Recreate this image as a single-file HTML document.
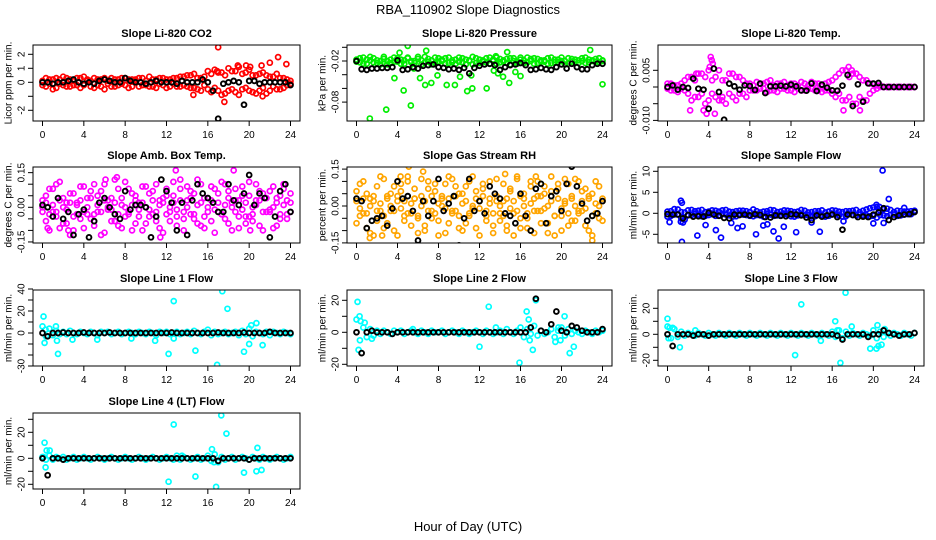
<!DOCTYPE html>
<html><head><meta charset="utf-8"><style>
html,body{margin:0;padding:0;background:#fff;}
svg{display:block;font-family:"Liberation Sans",Arial,sans-serif;}
</style></head><body>
<svg id="chart" width="936" height="540" viewBox="0 0 936 540" xmlns="http://www.w3.org/2000/svg">
<rect width="936" height="540" fill="#fff"/>
<text x="468" y="14" text-anchor="middle" font-size="13">RBA_110902  Slope Diagnostics</text>
<text x="468" y="531" text-anchor="middle" font-size="13">Hour of Day (UTC)</text>
</svg>
<script>
const xTicks=[0,4,8,12,16,20,24];
// ---- Panel 1: CO2
const co2Main1=[0.1,-0.3,0.2,-0.5,0.3,-0.1,0.4,-0.3,0.2,-0.2,0.3,-0.4,0.4,0.1,-0.3,0.3,-0.2,0.2,-0.5,0.1,0.3,-0.3,0.2,-0.1,0.3,-0.4,0.2,0.1,-0.3,0.3,-0.2,0.4,-0.3,0.2,-0.1,0.3,-0.4,0.2,0.3,-0.3,0.4,-0.2,0.5,-0.4,0.6,-0.5,0.3,-0.2,0.8,-0.7,0.9,-0.6,0.7,-0.8,1.0,-0.5,0.8,-0.9,0.6,-0.4,0.9,-0.7,0.5,-0.6,0.7,-0.8,0.4,-0.3,0.6,-0.5,0.3,-0.2,0.1];
const co2Main2=[-0.2,0.3,-0.1,0.2,-0.4,0.2,-0.2,0.3,-0.3,0.1,-0.2,0.3,-0.2,0.2,0.1,-0.4,0.2,-0.3,0.3,-0.1,-0.3,0.2,-0.2,0.3,-0.2,0.2,-0.3,0.2,0.3,-0.2,0.1,-0.3,0.2,-0.4,0.3,-0.2,0.2,-0.3,-0.1,0.3,-0.3,0.4,-0.3,0.5,-0.4,0.3,-0.6,0.4,-0.5,0.6,-0.4,0.7,-0.9,0.5,-0.6,0.8,-0.7,1.1,-0.5,0.7,-0.6,0.5,-0.8,0.6,-0.4,0.5,-0.6,0.4,-0.5,0.3,-0.4,0.2,-0.1];
const co2OutX=[17,17.6,20.1,21.2,22,22.8,23.6,16.9,21.3,14.6,19.7,18.9];
const co2OutY=[2.5,-1.4,1.1,1.2,1.4,1.8,1.3,0.8,-1,-0.9,1.2,1.2];
const co2Black=[0,0,-0.1,0,0,0.1,0.2,0,-0.1,0,-0.1,0.1,0.2,0.1,0,0,0.3,0.1,0,0,-0.1,0,0.1,0,0,0,-0.1,0.1,0,0,0,0.2,0,-0.6,-2.6,-0.1,0,0.1,0,-1.6,0.1,0.1,-0.1,0,0,0,0,0,-0.2];
// ---- Panel 2: Pressure
const presMain1=[-0.018,-0.022,-0.015,-0.024,-0.019,-0.016,-0.023,-0.02,-0.014,-0.025,-0.018,-0.021,-0.016,-0.024,-0.019,-0.015,-0.022,-0.02,-0.017,-0.025,-0.014,-0.021,-0.019,-0.023,-0.016,-0.02,-0.024,-0.015,-0.022,-0.018,-0.021,-0.016,-0.025,-0.019,-0.014,-0.023,-0.018,-0.021,-0.016,-0.024,-0.02,-0.015,-0.022,-0.019,-0.017,-0.025,-0.016,-0.021,-0.018,-0.023,-0.015,-0.02,-0.024,-0.017,-0.021,-0.019,-0.016,-0.023,-0.018,-0.022,-0.015,-0.02,-0.024,-0.017,-0.021,-0.019,-0.016,-0.023,-0.018,-0.02,-0.017,-0.022,-0.019];
const presMain2=[-0.021,-0.016,-0.024,-0.018,-0.014,-0.022,-0.019,-0.025,-0.017,-0.02,-0.023,-0.015,-0.021,-0.018,-0.024,-0.016,-0.02,-0.023,-0.014,-0.019,-0.022,-0.017,-0.025,-0.015,-0.021,-0.018,-0.016,-0.023,-0.019,-0.024,-0.015,-0.022,-0.018,-0.02,-0.025,-0.016,-0.023,-0.019,-0.022,-0.015,-0.018,-0.024,-0.017,-0.021,-0.023,-0.016,-0.02,-0.024,-0.015,-0.019,-0.022,-0.017,-0.016,-0.023,-0.019,-0.021,-0.024,-0.015,-0.022,-0.018,-0.02,-0.025,-0.016,-0.021,-0.018,-0.023,-0.02,-0.015,-0.022,-0.019,-0.021,-0.016,-0.02];
const presOutX=[1.3,2.9,3.7,4.6,5.3,5.6,6.2,6.7,7.3,7.9,8.8,9.6,10.1,10.8,11.3,11.2,12.7,13.4,13.8,14.3,14.9,15.5,16,24,5,4.2,6.8,14.7,22.8,13.6];
const presOutY=[-0.104,-0.091,-0.045,-0.063,-0.085,-0.031,-0.045,-0.055,-0.052,-0.041,-0.055,-0.055,-0.043,-0.064,-0.06,-0.041,-0.06,-0.034,-0.038,-0.043,-0.052,-0.036,-0.042,-0.054,0.002,-0.008,-0.005,-0.007,-0.004,-0.013];
const presBlack=[-0.02,-0.032,-0.033,-0.031,-0.031,-0.03,-0.03,-0.029,-0.019,-0.033,-0.032,-0.029,-0.031,-0.027,-0.026,-0.025,-0.029,-0.03,-0.032,-0.031,-0.033,-0.03,-0.038,-0.03,-0.027,-0.025,-0.024,-0.026,-0.033,-0.029,-0.026,-0.025,-0.023,-0.026,-0.033,-0.032,-0.03,-0.032,-0.033,-0.029,-0.025,-0.031,-0.024,-0.029,-0.032,-0.032,-0.026,-0.024,-0.024];
// ---- Panel 3: Li-820 Temp
const tempMain1=[0.001,-0.001,0.0005,-0.0015,0.001,-0.001,0.003,-0.004,0.002,-0.003,0.004,-0.005,0.005,-0.002,0.003,-0.004,0.002,-0.005,0.004,-0.003,0.003,-0.002,0.002,-0.003,0.001,-0.001,0.0015,-0.0005,0.001,-0.0015,0.002,-0.001,0.001,-0.0005,0.0015,-0.001,0.001,-0.0015,0.0005,-0.001,0.001,-0.0005,0.0015,-0.001,0.001,-0.0015,0.001,-0.001,0.002,-0.003,0.004,-0.004,0.005,-0.003,0.004,-0.005,0.003,-0.004,0.002,-0.002,0.001,-0.0005,0.0005,0,0,0,0,0,0,0,0,0,0];
const tempMain2=[-0.0005,0.001,-0.001,0.0005,-0.0005,0.002,-0.002,0.003,-0.003,0.004,-0.002,0.003,-0.004,0.002,-0.003,0.005,-0.003,0.002,-0.002,0.004,-0.004,0.003,-0.002,0.001,-0.001,0.0005,-0.001,0.001,-0.0005,0.0015,-0.001,0.0005,-0.0015,0.001,-0.0005,0.0005,-0.001,0.001,-0.0005,0.0015,-0.001,0.0005,-0.0005,0.001,-0.001,0.0005,-0.001,0.0015,-0.002,0.003,-0.002,0.005,-0.004,0.003,-0.005,0.004,-0.003,0.002,-0.004,0.001,-0.001,0.0005,0,0,0,0,0,0,0,0,0,0,0];
const tempOutX=[4.2,4.3,4.4,4.1,3.8,3.5,2.2,4.6,17.6,17.9,17.1,18.7,5.3,2.8];
const tempOutY=[0.009,0.008,0.007,0.006,-0.008,-0.007,-0.007,-0.008,0.006,0.005,-0.007,-0.007,-0.004,0.004];
const tempBlack=[0,0.0005,-0.0008,0,-0.0003,0.0025,-0.0005,-0.0008,-0.0065,0.0055,-0.0015,-0.0098,0.001,0.0002,-0.0008,0.0005,0.0003,-0.0009,0.001,-0.0018,0.0002,0.0002,0.0004,0.0002,0.0007,0.0002,-0.001,-0.0011,0.0011,-0.0012,0.0007,-0.0002,-0.001,-0.0011,0.0004,0.0036,-0.0057,0.0008,-0.0044,0.0011,0.001,0.0012,0,0,0,0,0,0,0];
// ---- Panel 4: Amb. Box Temp
const ambMain1=[-0.02,0.05,-0.1,0.08,-0.04,0.11,-0.07,0.02,-0.12,0.06,-0.03,0.09,-0.09,0.04,-0.05,0.1,-0.02,0.07,-0.11,0.03,-0.06,0.12,-0.08,0.01,-0.04,0.08,-0.1,0.05,-0.01,0.09,-0.07,0.06,-0.03,0.1,-0.09,0.02,0.05,-0.06,0.11,-0.04,0.08,-0.1,0.03,0.07,-0.05,0.12,-0.08,0.04,-0.02,0.09,-0.11,0.06,-0.03,0.1,-0.07,0.02,0.08,-0.09,0.05,-0.04,0.11,-0.06,0.03,0.07,-0.1,0.04,-0.02,0.09,-0.08,0.05,0.1,-0.05,0.02];
const ambMain2=[0.03,-0.06,0.08,-0.02,0.1,-0.09,0.04,-0.07,0.06,-0.1,0.02,-0.05,0.09,-0.03,0.07,-0.08,0.05,-0.12,0.1,-0.01,0.04,-0.06,0.08,-0.09,0.11,-0.03,0.06,-0.07,0.02,-0.1,0.09,-0.04,0.07,-0.06,0.03,-0.11,0.08,-0.02,0.05,-0.08,0.12,-0.05,0.09,-0.03,0.06,-0.07,0.1,-0.09,0.04,-0.06,0.08,-0.02,0.11,-0.05,0.07,-0.1,0.03,-0.04,0.09,-0.07,0.05,-0.03,0.1,-0.08,0.06,-0.02,0.07,-0.09,0.04,-0.05,0.08,-0.03,0.06];
const ambMain3=[0,0.02,-0.03,0.01,-0.02,0.03,0,-0.01,0.02,-0.04,0.01,0.03,-0.02,0,0.04,-0.03,0.01,-0.02,0.03,0,-0.01,0.02,-0.03,0.04,0,-0.02,0.01,0.03,-0.04,0.02,0,-0.01,0.03,-0.02,0.01,0.04,-0.03,0,0.02,-0.01,0.03,-0.02,0,0.04,-0.03,0.01,0.02,-0.04,0,0.03,-0.01,0.02,-0.03,0.01,0.04,0,-0.02,0.03,-0.01,0.02,-0.04,0,0.01,0.03,-0.02,0.04,-0.01,0,0.02,-0.03,0.01,0.03,-0.02];
const ambOutX=[5.1,12.9,18.5,11.4,0.5,6.1,20.1,2.5,7.2];
const ambOutY=[-0.17,0.16,0.16,-0.13,-0.09,0.12,-0.1,-0.1,0.13];
const ambBlack=[0.01,0,-0.04,0.04,-0.05,-0.02,-0.12,-0.03,-0.01,-0.13,-0.06,0.02,0.04,0,-0.03,-0.05,0.07,-0.01,0.01,0.01,0,-0.13,-0.04,0.12,0.07,0.02,-0.1,0.02,-0.12,0.03,0.1,0.06,0.04,0.02,-0.02,-0.02,0.1,0.03,0.01,0.06,0.14,0.01,0.06,0.04,-0.13,-0.04,0.07,0.1,-0.02];
// ---- Panel 5: Gas Stream RH
const rhMain1=[0.06,-0.04,0.1,-0.09,0.03,-0.12,0.08,-0.02,0.11,-0.07,0.05,-0.1,0.02,0.09,-0.06,0.12,-0.03,0.07,-0.11,0.04,-0.08,0.1,-0.05,0.06,-0.12,0.03,0.09,-0.07,0.11,-0.02,0.05,-0.1,0.08,-0.04,0.12,-0.09,0.02,0.07,-0.06,0.1,-0.11,0.04,-0.03,0.09,-0.08,0.06,-0.12,0.11,-0.05,0.03,-0.09,0.08,-0.02,0.1,-0.07,0.05,-0.11,0.12,-0.04,0.07,-0.1,0.02,0.09,-0.06,0.11,-0.03,0.06,-0.08,0.04,-0.12,0.1,-0.05,0.03];
const rhMain2=[-0.07,0.09,-0.03,0.05,-0.11,0.02,-0.06,0.12,-0.09,0.04,-0.02,0.08,-0.12,0.06,-0.04,0.1,-0.08,0.03,-0.05,0.11,-0.1,0.07,-0.02,0.09,-0.06,0.04,-0.11,0.12,-0.03,0.08,-0.09,0.05,-0.07,0.1,-0.01,0.06,-0.12,0.09,-0.04,0.03,-0.08,0.11,-0.06,0.02,-0.1,0.07,-0.03,0.12,-0.09,0.05,-0.05,0.1,-0.11,0.04,-0.02,0.08,-0.07,0.06,-0.12,0.09,-0.04,0.11,-0.08,0.03,-0.06,0.1,-0.02,0.07,-0.1,0.05,-0.03,0.08,-0.06];
const rhMain3=[0.02,-0.01,0.03,-0.03,0,0.04,-0.02,0.01,-0.04,0.03,0,-0.02,0.04,-0.01,0.02,-0.03,0.01,0.03,-0.04,0,0.02,-0.02,0.04,-0.03,0.01,0,-0.01,0.03,-0.02,0.04,-0.04,0.01,0.02,-0.03,0,0.03,-0.01,0.04,-0.02,0.01,-0.03,0.02,0,-0.04,0.03,-0.01,0.02,-0.02,0.04,0,-0.03,0.01,0.03,-0.02,0.04,-0.01,0,0.02,-0.04,0.03,-0.01,0.01,-0.03,0.04,0,-0.02,0.02,-0.01,0.03,-0.04,0.01,0,0.02];
const rhOutX=[5.1,4.3,10.9,22.6,11,14.5,2.5,6.5,17.5,1.3,23];
const rhOutY=[0.16,0.12,0.17,-0.19,-0.17,0.13,-0.12,0.14,0.12,-0.13,-0.14];
const rhBlack=[0.03,0.02,-0.09,-0.06,-0.05,-0.04,-0.08,-0.01,0.1,0.03,0.04,-0.02,-0.14,0.02,-0.04,0.02,0.11,-0.02,0.01,0.04,-0.16,-0.05,0.11,-0.02,0.02,-0.03,0.08,0.05,0.03,-0.03,-0.04,-0.07,0.05,-0.04,-0.1,0.07,0.09,-0.07,0.04,0.06,-0.02,0.09,0.16,0.08,0.01,-0.06,-0.04,-0.03,0.02];
// ---- Panel 6: Sample Flow
const sfMain1=[-0.8,0.5,-0.3,0.9,-1.2,0.2,-0.5,0.8,-0.2,0.6,-0.7,0.3,-0.4,0.7,-0.6,0.4,-0.2,0.8,-0.5,0.3,-0.7,0.6,-0.3,0.5,-0.6,0.9,-0.4,0.2,-0.8,0.5,-0.3,0.7,-0.5,0.4,-0.2,0.6,-0.7,0.3,-0.5,0.8,-0.4,0.2,-0.6,0.5,-0.3,0.7,-0.8,0.4,-0.2,0.6,-0.5,0.3,-0.7,0.5,-0.4,0.8,-0.3,0.6,-0.5,1.2,-0.6,1.5,-0.4,1,-0.7,0.8,-0.3,0.6,-0.5,0.4,-0.2,0.5,0.3];
const sfMain2=[0.4,-0.6,1,-0.2,0.3,-1.5,0.7,-0.4,0.5,-0.3,0.8,-0.6,0.4,-0.2,0.6,-0.5,0.7,-0.3,0.4,-0.8,0.5,-0.2,0.6,-0.4,0.3,-0.7,0.5,-0.5,0.4,-0.2,0.8,-0.6,0.3,-0.4,0.7,-0.3,0.5,-0.8,0.4,-0.2,0.6,-0.5,0.3,-0.7,0.5,-0.4,0.2,-0.6,0.7,-0.3,0.4,-0.8,0.5,-0.2,0.6,-0.5,0.3,-0.4,0.9,-0.7,1.4,-1,0.6,-0.5,1.1,-0.4,0.3,-0.6,0.5,-0.3,0.4,-0.2,0.6];
const sfOutX=[1.3,1.4,1.3,1.4,2.9,3.7,4.7,5.2,6.2,6.8,7.3,8.6,9.3,9.7,10.3,10.8,11.3,12.5,14,14.8,17.1,20,20.3,20.9,21,21.5,20.6,23,0.2,1.5];
const sfOutY=[3,2.5,-2,-6.8,-5.3,-2.8,-4,-5.8,-2.3,-3.5,-3.1,-5,-2.9,-2.6,-4.3,-6,-3.2,-4.5,-2.2,-4.4,-1.9,-2.4,2,10.2,-2.3,3.4,1.5,1.3,-2.1,-2.2];
const sfBlack=[-0.2,-0.3,-0.3,-1.2,-0.4,-0.8,-0.7,-0.8,0.1,-0.3,-0.6,-1.1,-1.2,-0.3,-0.4,-0.3,-0.5,-0.2,-0.4,-0.9,-1,-0.5,-0.6,-0.7,-0.2,-0.3,-0.5,-1,-1.6,-0.5,-0.8,-0.5,-0.3,-0.9,-3.9,-0.3,-0.4,-0.9,-0.8,-0.9,-0.3,0.2,1.2,-1.6,-0.9,-0.5,-0.3,-0.2,0.3];
// ---- Panel 7: Line 1 Flow
const l1Main=[6,-3,4,-2,2,-1,1,-1,2,0,-1,1,0,-1,1,0,-2,1,0,1,-1,0,1,-1,0,1,0,-1,1,0,-1,1,0,-2,1,0,1,-1,0,1,-1,0,1,-1,2,0,-1,1,3,-2,1,-1,0,1,-1,0,1,-2,2,-1,4,-3,1,0,-1,1,-2,1,0,-1,1,0,-1];
const l1OutX=[0.1,0.2,1.3,1.4,1.5,12.2,12.7,14.8,16.9,17.4,17.9,19.5,20,20.7,21.3,12.7,20.2,2.9,5.3,10.9,8.6,0.3];
const l1OutY=[15,-9,6,-7,-19,-19,29,-16,-29,38,22,-17,-10,9,-11,-5,7,-6,-6,-7,-5,3];
const l1Black=[0,-3,0,0,0.5,0,0,0,0.5,0,0,0,0,0.5,0,0,0,0,0,0,0,0,0,0,0,0.5,0,0,0,0,0,0,0,0,0.5,0,0,0,0,0.5,0,0,0,0,1,0,0,0,0];
// ---- Panel 8: Line 2 Flow
const l2Main=[8,-5,3,-3,2,-2,1,-1,1,0,-1,1,0,1,-1,0,1,0,-1,1,0,-1,1,0,0,1,-1,0,1,0,-1,1,0,-1,0,1,0,-1,1,0,-1,0,1,-1,2,0,-1,1,3,-3,2,-1,4,-2,1,-1,0,2,-3,1,3,-2,2,-1,1,0,-1,1,0,-1,1,0,1];
const l2OutX=[0.1,0.3,0.2,0.8,1.5,5.5,12,12.9,13.6,15.9,16.6,16.9,17.2,17.5,17.4,16.8,19.4,19.9,20.3,20.8,21.2,19.7,0.4];
const l2OutY=[19,10,-11,6,-4,2,-9,16,3,-19,13,-5,-11,20,30,8,-6,-5,10,-13,-9,3,7];
const l2Black=[0,-13,0,1,0,0,0,-1,0,0,0,0,0,0,0,0,0,0,0,0,0,0,0,0,0,0,0,0,0,0,0,0,0,0,3,21,1,0,5,13,1,0,4,3,1,0,0,0,2];
// ---- Panel 9: Line 3 Flow
const l3Main=[6,-3,4,-2,2,-1,1,0,-1,1,0,-1,1,0,-1,1,0,-1,1,0,-1,1,0,-1,1,0,-1,1,0,-1,1,0,-1,1,0,-1,1,0,-1,1,0,-1,1,0,-1,1,0,-1,2,-2,3,-3,2,-1,1,0,-1,1,0,-1,3,-3,2,-2,1,-1,1,0,-1,1,0,-1,1];
const l3OutX=[0,0.2,0.5,0.1,1.2,12.4,13,14.9,16.3,16.5,16.8,17.3,17.9,19.7,20.3,20.5,20.8,20.4,21.1,2.7];
const l3OutY=[12,5,5,-3,-10,-16,23,-5,10,3,-22,32,6,-11,-11,-9,-8,7,4,3];
const l3Black=[0,-9,0,0,0,-1,0,0,-1,0,0,0,0,0,0,0,0,0,0,0,0,0,0,0,0,0,0,0,0,0,0,0,0,-1,-4,0,0,0,0,-2,0,0,3,1,0,-1,0,0,1];
// ---- Panel 10: Line 4 (LT) Flow
const l4Main=[1,-1,2,-1,1,0,1,-1,0,1,-1,0,1,0,-1,0,1,0,-1,0,1,0,-1,0,1,0,-1,0,1,0,-1,0,1,0,-1,0,1,0,-1,2,-1,1,0,-1,0,1,-1,0,2,-2,3,-3,1,-1,0,1,-1,0,1,0,-1,1,0,-1,1,0,-1,0,1,0,-1,0,1];
const l4OutX=[0.2,0.3,0.4,0.7,12.2,12.7,14.8,16.4,16.8,17.3,17.8,19.5,20.7,20.8,21.2,16.6,0.1,13.5];
const l4OutY=[12,-7,6,6,-18,26,-14,7,-22,33,19,-11,-10,8,-9,-3,1,2];
const l4Black=[0,-13,0,0,-1,0,0,0,0,0,0,0,0,0,0,0,0,0,0,0,0,0,0,0,0,0,0,0,0,0,0,0,0,0,-2,0,0,0,0,0,-1,0,0,0,0,0,0,0,0];
// tick values / labels
const co2Ticks=[-2,-1,0,1,2], co2Labels=["-2","","0","1","2"];
const presTicks=[-0.08,-0.06,-0.04,-0.02,0], presLabels=["-0.08","","","-0.02",""];
const tempTicks=[-0.01,-0.005,0,0.005], tempLabels=["-0.010","","","0.005"];
const ambTicks=[-0.15,-0.1,-0.05,0,0.05,0.1,0.15], ambLabels=["-0.15","","","0.00","","","0.15"];
const rhTicks=[-0.15,-0.1,-0.05,0,0.05,0.1,0.15], rhLabels=["-0.15","","","0.00","","","0.15"];
const sfTicks=[-5,0,5,10], sfLabels=["-5","0","5","10"];
const l1Ticks=[-30,-20,-10,0,10,20,30,40], l1Labels=["-30","","","0","","20","","40"];
const l2Ticks=[-20,-10,0,10,20], l2Labels=["-20","","0","","20"];
const l3Ticks=[-20,-10,0,10,20], l3Labels=["-20","","0","","20"];
const l4Ticks=[-20,-10,0,10,20,30], l4Labels=["-20","","0","","20",""];

const C=[[33,300],[347,612],[658,924]], R=[[45,121],[167,243],[290,366],[413,489]];
const panels=[
 {id:"co2",title:"Slope Li-820 CO2",ylab:"Licor ppm per min.",c:0,r:0,v0:0,p0:82.3,k:14,ticks:co2Ticks,labels:co2Labels,color:"#ff0000",main:[co2Main1,co2Main2],ox:co2OutX,oy:co2OutY,black:co2Black},
 {id:"pressure",title:"Slope Li-820 Pressure",ylab:"kPa per min.",c:1,r:0,v0:0,p0:47.3,k:685,ticks:presTicks,labels:presLabels,color:"#00ee00",main:[presMain1,presMain2],ox:presOutX,oy:presOutY,black:presBlack},
 {id:"li820-temp",title:"Slope Li-820 Temp.",ylab:"degrees C per min.",c:2,r:0,v0:0,p0:87,k:3340,ticks:tempTicks,labels:tempLabels,color:"#ff00ff",main:[tempMain1,tempMain2],ox:tempOutX,oy:tempOutY,black:tempBlack},
 {id:"amb-temp",title:"Slope Amb. Box Temp.",ylab:"degrees C per min.",c:0,r:1,v0:0,p0:207.3,k:231,ticks:ambTicks,labels:ambLabels,color:"#ff00ff",main:[ambMain1,ambMain2,ambMain3],ox:ambOutX,oy:ambOutY,black:ambBlack},
 {id:"rh",title:"Slope Gas Stream RH",ylab:"percent per min.",c:1,r:1,v0:0,p0:206,k:246,ticks:rhTicks,labels:rhLabels,color:"#ffa500",main:[rhMain1,rhMain2,rhMain3],ox:rhOutX,oy:rhOutY,black:rhBlack},
 {id:"sample-flow",title:"Slope Sample Flow",ylab:"ml/min per min.",c:2,r:1,v0:0,p0:213.3,k:4.2,ticks:sfTicks,labels:sfLabels,color:"#0000ff",main:[sfMain1,sfMain2],ox:sfOutX,oy:sfOutY,black:sfBlack},
 {id:"line1",title:"Slope Line 1  Flow",ylab:"ml/min per min.",c:0,r:2,v0:0,p0:333,k:1.1,ticks:l1Ticks,labels:l1Labels,color:"#00ffff",main:[l1Main],ox:l1OutX,oy:l1OutY,black:l1Black},
 {id:"line2",title:"Slope Line 2 Flow",ylab:"ml/min per min.",c:1,r:2,v0:0,p0:332.3,k:1.6,ticks:l2Ticks,labels:l2Labels,color:"#00ffff",main:[l2Main],ox:l2OutX,oy:l2OutY,black:l2Black},
 {id:"line3",title:"Slope Line 3 Flow",ylab:"ml/min per min.",c:2,r:2,v0:0,p0:334.3,k:1.3,ticks:l3Ticks,labels:l3Labels,color:"#00ffff",main:[l3Main],ox:l3OutX,oy:l3OutY,black:l3Black},
 {id:"line4",title:"Slope Line 4 (LT) Flow",ylab:"ml/min per min.",c:0,r:3,v0:0,p0:458.3,k:1.3,ticks:l4Ticks,labels:l4Labels,color:"#00ffff",main:[l4Main],ox:l4OutX,oy:l4OutY,black:l4Black}
];
const NS="http://www.w3.org/2000/svg", svg=document.getElementById("chart");
function mk(tag,attrs,parent){const e=document.createElementNS(NS,tag);for(const a in attrs)e.setAttribute(a,attrs[a]);parent.appendChild(e);return e;}
panels.forEach(p=>{
  const x1=C[p.c][0],x2=C[p.c][1],y1=R[p.r][0],y2=R[p.r][1];
  const sx=h=>x1+9.5+h*(x2-x1-19)/24;
  const sy=v=>p.p0-(v-p.v0)*p.k;
  const g=mk("g",{},svg);
  
  
  const clipId="clip-"+p.id;
  const cp=mk("clipPath",{id:clipId},g);mk("rect",{x:x1,y:y1,width:x2-x1,height:y2-y1},cp);
  const t=mk("text",{x:(x1+x2)/2,y:y1-8,"text-anchor":"middle","font-size":"11","font-weight":"bold"},g);t.textContent=p.title;
  
  
  const yl=mk("text",{x:x1-24,y:(y1+y2)/2,"text-anchor":"middle","font-size":"10",transform:`rotate(-90 ${x1-24} ${(y1+y2)/2})`,"dominant-baseline":"central"},g);yl.textContent=p.ylab;
  
  
  const pts=mk("g",{"clip-path":`url(#${clipId})`,fill:"none","stroke-width":"1.7"},g);
  
  
  p.main.forEach(arr=>arr.forEach((v,i)=>{
    const c=mk("circle",{cx:sx(i/3),cy:sy(v),r:2.5,stroke:p.color},pts);
    
    
  }));
  p.ox.forEach((h,i)=>{
    const c=mk("circle",{cx:sx(h),cy:sy(p.oy[i]),r:2.5,stroke:p.color},pts);
    
    
  });
  p.black.forEach((v,i)=>{
    const c=mk("circle",{cx:sx(i/2),cy:sy(v),r:2.4,stroke:"#000","stroke-width":"1.9"},pts);
    
    
  });
  const box=mk("rect",{x:x1,y:y1,width:x2-x1,height:y2-y1,fill:"none",stroke:"#000","stroke-width":"1"},g);
  
  
  const xa=mk("g",{stroke:"#000"},g);
  
  
  xTicks.forEach(h=>{
    mk("line",{x1:sx(h),x2:sx(h),y1:y2,y2:y2+5},xa);
    const tl=mk("text",{x:sx(h),y:y2+17,"text-anchor":"middle","font-size":"10",stroke:"none"},xa);tl.textContent=h;
  });
  const ya=mk("g",{stroke:"#000"},g);
  
  
  p.ticks.forEach((v,i)=>{
    const y=sy(v); if(y<y1-3||y>y2+3)return;
    mk("line",{x1:x1-5,x2:x1,y1:y,y2:y},ya);
    if(p.labels[i]){const tl=mk("text",{x:x1-11,y:y,"text-anchor":"middle","font-size":"10",stroke:"none","dominant-baseline":"central",transform:`rotate(-90 ${x1-11} ${y})`},ya);tl.textContent=p.labels[i];}
  });
});
</script>
</body></html>
